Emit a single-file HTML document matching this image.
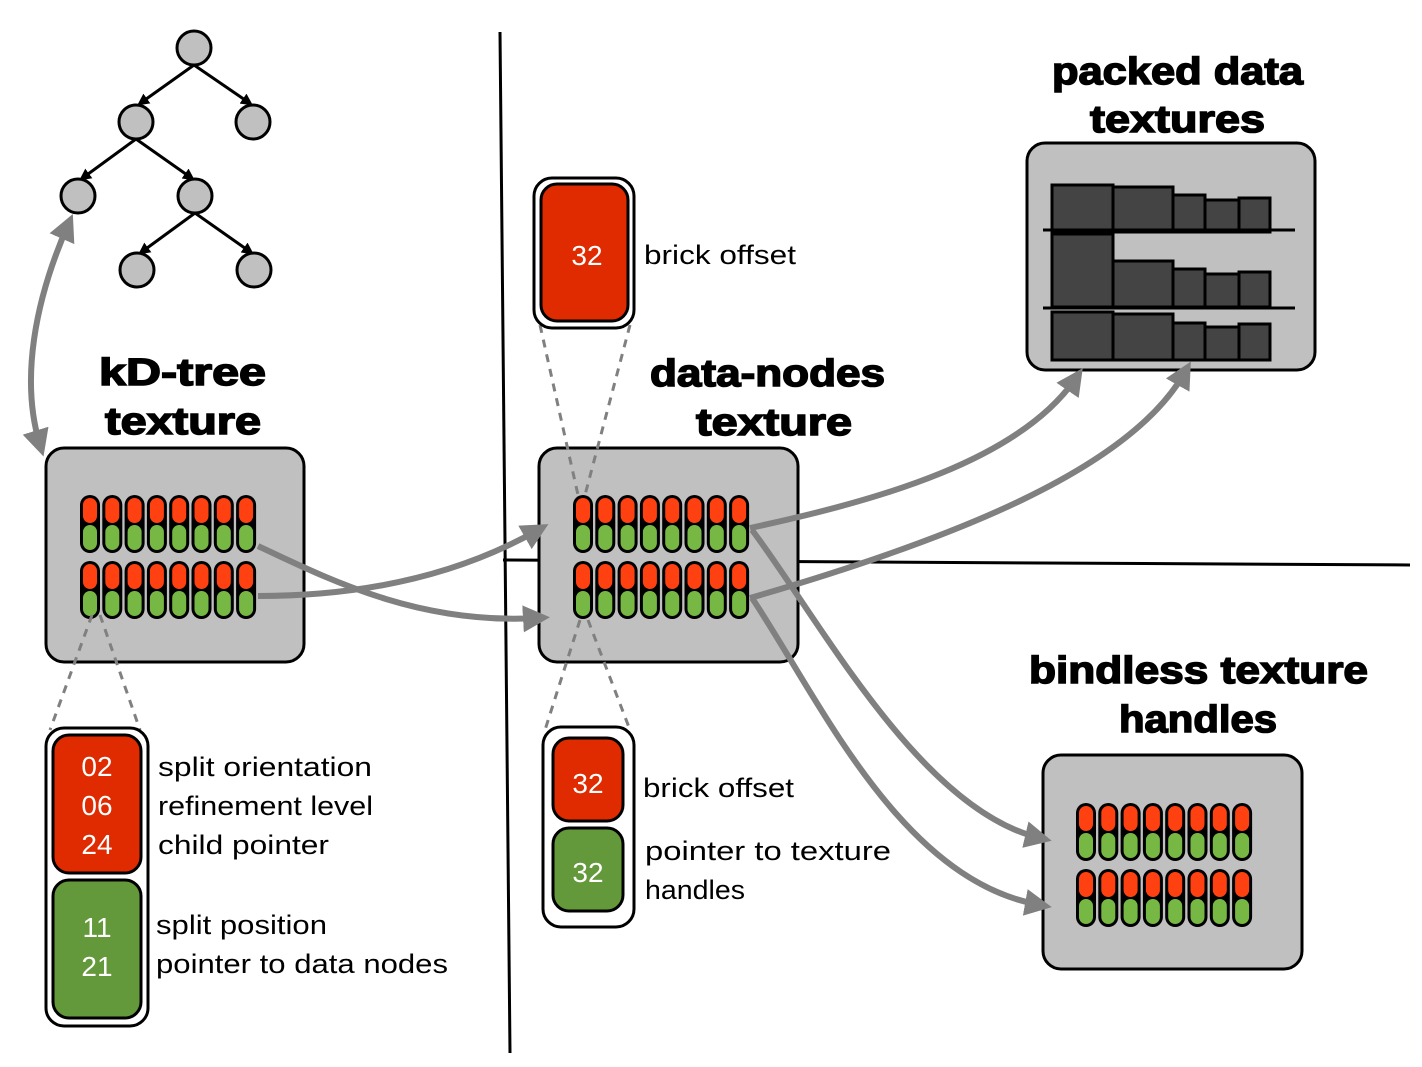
<!DOCTYPE html>
<html><head><style>
body{margin:0;background:#fff}
svg{display:block}
text{font-family:"Liberation Sans",sans-serif}
.t{font-weight:bold;font-size:38px;fill:#000;stroke:#000;stroke-width:1.5}
.l{font-size:27px;fill:#000}
.w{font-size:28px;fill:#fff;text-anchor:middle}
</style></head><body>
<svg id="s" width="1422" height="1067" viewBox="0 0 1422 1067" xmlns="http://www.w3.org/2000/svg">
<defs>
<marker id="ab" markerWidth="4" markerHeight="4" refX="2" refY="2" orient="auto" markerUnits="strokeWidth"><path d="M0,0 L4,2 L0,4z" fill="#000"/></marker>
<marker id="ag" markerWidth="4.5" markerHeight="4.5" refX="2.5" refY="2.25" orient="auto-start-reverse" markerUnits="strokeWidth"><path d="M0,0 L4.5,2.25 L0,4.5z" fill="#808080"/></marker>
</defs>
<line x1="500" y1="32" x2="510" y2="1053" stroke="#000" stroke-width="3"/>
<line x1="503" y1="560" x2="1410" y2="565" stroke="#000" stroke-width="3"/>
<g stroke="#000" stroke-width="3" fill="none" marker-end="url(#ab)">
<line x1="194" y1="65" x2="142" y2="102"/><line x1="194" y1="65" x2="248" y2="102"/>
<line x1="136" y1="139" x2="84" y2="177"/><line x1="136" y1="139" x2="190" y2="177"/>
<line x1="195" y1="213" x2="143" y2="251"/><line x1="195" y1="213" x2="249" y2="251"/>
</g>
<g fill="#c0c0c0" stroke="#000" stroke-width="3">
<circle cx="194" cy="48" r="17"/><circle cx="136" cy="122" r="17"/><circle cx="253" cy="122" r="17"/>
<circle cx="78" cy="196" r="17"/><circle cx="195" cy="196" r="17"/><circle cx="137" cy="270" r="17"/><circle cx="254" cy="270" r="17"/>
</g>
<g fill="#c0c0c0" stroke="#000" stroke-width="3">
<rect x="46" y="448" width="258" height="214" rx="18"/>
<rect x="539" y="448" width="259" height="214" rx="18"/>
<rect x="1027" y="143" width="288" height="227" rx="18"/>
<rect x="1043" y="755" width="259" height="214" rx="18"/>
</g>
<text class="t" x="99" y="385" textLength="167" lengthAdjust="spacingAndGlyphs">kD-tree</text><text class="t" x="105" y="434" textLength="156" lengthAdjust="spacingAndGlyphs">texture</text>
<text class="t" x="650" y="386" textLength="235" lengthAdjust="spacingAndGlyphs">data-nodes</text><text class="t" x="696" y="435" textLength="156" lengthAdjust="spacingAndGlyphs">texture</text>
<text class="t" x="1052" y="84" textLength="251" lengthAdjust="spacingAndGlyphs">packed data</text><text class="t" x="1090" y="132" textLength="175" lengthAdjust="spacingAndGlyphs">textures</text>
<text class="t" x="1029" y="683" textLength="339" lengthAdjust="spacingAndGlyphs">bindless texture</text><text class="t" x="1119" y="732" textLength="158" lengthAdjust="spacingAndGlyphs">handles</text>
<g fill="#444" stroke="#000" stroke-width="3">
<rect x="1052" y="185" width="61" height="47"/><rect x="1113" y="187" width="60" height="45"/><rect x="1173" y="195" width="32" height="37"/><rect x="1205" y="200" width="34" height="32"/><rect x="1239" y="198" width="31" height="34"/>
<rect x="1052" y="234" width="61" height="73"/><rect x="1113" y="261" width="60" height="46"/><rect x="1173" y="269" width="32" height="38"/><rect x="1205" y="274" width="34" height="33"/><rect x="1239" y="272" width="31" height="35"/>
<rect x="1052" y="312" width="61" height="48"/><rect x="1113" y="314" width="60" height="46"/><rect x="1173" y="323" width="32" height="37"/><rect x="1205" y="327" width="34" height="33"/><rect x="1239" y="324" width="31" height="36"/>
</g>
<line x1="1043" y1="230" x2="1295" y2="230" stroke="#000" stroke-width="3"/>
<line x1="1043" y1="308" x2="1295" y2="308" stroke="#000" stroke-width="3"/>
<g id="grids"></g>
<g stroke="#808080" stroke-width="3" stroke-dasharray="8,7" fill="none">
<line x1="92" y1="615" x2="50" y2="730"/><line x1="100" y1="615" x2="140" y2="730"/>
<line x1="540" y1="325" x2="578" y2="495"/><line x1="630" y1="325" x2="585" y2="495"/>
<line x1="580" y1="620" x2="545" y2="730"/><line x1="588" y1="620" x2="630" y2="730"/>
</g>
<g stroke="#808080" stroke-width="6" fill="none" marker-end="url(#ag)">
<path d="M40,445 C20,380 35,300 68,225" marker-start="url(#ag)"/>
<path d="M258,596 C350,596 450,580 538,530"/>
<path d="M258,546 C330,580 420,625 538,618"/>
<path d="M750,528 C880,500 1020,460 1076,378"/>
<path d="M750,598 C950,540 1130,470 1185,372"/>
<path d="M752,530 C820,620 920,810 1040,838"/>
<path d="M752,598 C820,700 900,880 1040,905"/>
</g>
<rect x="534" y="178" width="100" height="150" rx="18" fill="#fff" stroke="#000" stroke-width="3"/>
<rect x="541" y="184" width="87" height="137" rx="16" fill="#e02a00" stroke="#000" stroke-width="3"/>
<text class="w" x="587" y="265">32</text>
<text class="l" x="644" y="264" textLength="152" lengthAdjust="spacingAndGlyphs">brick offset</text>
<rect x="46" y="728" width="102" height="298" rx="18" fill="#fff" stroke="#000" stroke-width="3"/>
<rect x="53" y="735" width="88" height="138" rx="16" fill="#e02a00" stroke="#000" stroke-width="3"/>
<rect x="53" y="880" width="88" height="138" rx="16" fill="#63993a" stroke="#000" stroke-width="3"/>
<text class="w" x="97" y="776">02</text><text class="w" x="97" y="815">06</text><text class="w" x="97" y="854">24</text>
<text class="w" x="97" y="937">11</text><text class="w" x="97" y="976">21</text>
<text class="l" x="158" y="776" textLength="214" lengthAdjust="spacingAndGlyphs">split orientation</text><text class="l" x="158" y="815" textLength="215" lengthAdjust="spacingAndGlyphs">refinement level</text><text class="l" x="158" y="854" textLength="171" lengthAdjust="spacingAndGlyphs">child pointer</text>
<text class="l" x="156" y="934" textLength="171" lengthAdjust="spacingAndGlyphs">split position</text><text class="l" x="156" y="973" textLength="292" lengthAdjust="spacingAndGlyphs">pointer to data nodes</text>
<rect x="543" y="727" width="91" height="200" rx="18" fill="#fff" stroke="#000" stroke-width="3"/>
<rect x="553" y="738" width="70" height="83" rx="16" fill="#e02a00" stroke="#000" stroke-width="3"/>
<rect x="553" y="828" width="70" height="83" rx="16" fill="#63993a" stroke="#000" stroke-width="3"/>
<text class="w" x="588" y="793">32</text><text class="w" x="588" y="882">32</text>
<text class="l" x="643" y="797" textLength="151" lengthAdjust="spacingAndGlyphs">brick offset</text>
<text class="l" x="645" y="860" textLength="246" lengthAdjust="spacingAndGlyphs">pointer to texture</text><text class="l" x="645" y="899" textLength="100" lengthAdjust="spacingAndGlyphs">handles</text>
</svg>
<script>
var g=document.getElementById('grids'),h='';
[[80,495],[80,561],[573,495],[573,561],[1076,803],[1076,869]].forEach(function(p){
for(var i=0;i<8;i++){var x=p[0]+i*22.3,y=p[1];
h+='<rect x="'+x+'" y="'+y+'" width="20" height="58" rx="10" fill="#000"/>';
h+='<rect x="'+(x+3)+'" y="'+(y+3)+'" width="14" height="25" rx="7" fill="#ff4010"/>';
h+='<rect x="'+(x+3)+'" y="'+(y+30)+'" width="14" height="25" rx="7" fill="#76b843"/>';}
});
g.innerHTML=h;
</script>
</body></html>
